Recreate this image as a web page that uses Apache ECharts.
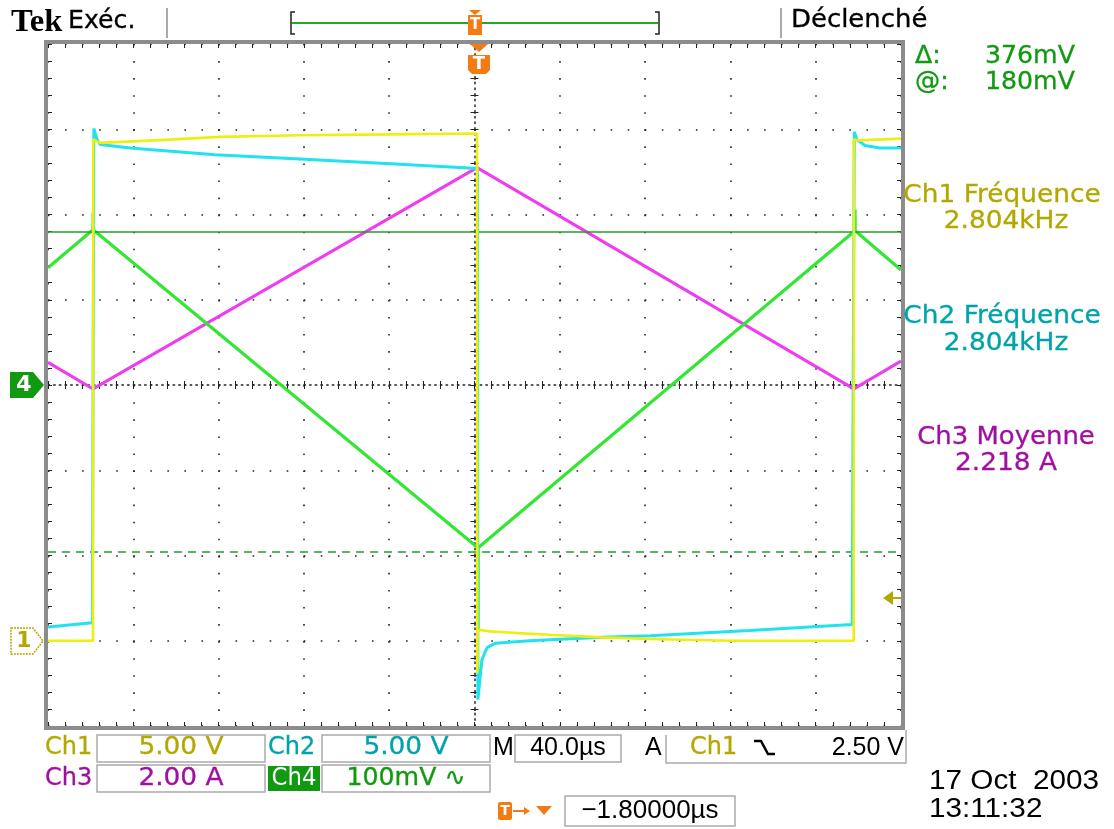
<!DOCTYPE html>
<html><head><meta charset="utf-8">
<script src="https://cdn.jsdelivr.net/npm/echarts@6/dist/echarts.min.js"></script>
<style>html,body{margin:0;padding:0;background:#fff}#c{width:1114px;height:829px}</style>
</head><body><div id="c"></div>
<script>
// ---- Data (time in µs, values in screen divisions) ----
const ch1T = [-200, -178.9, -178.8, -175.5, -150, -119.3, -81.8, -40, 1.2, 1.3, 1.5, 7.3, 20, 35.4, 60, 82.3, 120, 177.8, 177.9, 180, 200];
const ch1V = [-3.00, -3.00, 2.88, 2.84, 2.87, 2.91, 2.93, 2.94, 2.95, -3.38, -2.87, -2.89, -2.91, -2.93, -2.96, -2.98, -3.00, -3.00, 2.88, 2.87, 2.89];
const ch2T = [-200, -179.2, -178.7, -178.5, -177.0, -175.5, -161.5, -121.7, -81.8, -34.9, 1.4, 1.6, 3.5, 5.9, 9.6, 26.0, 60, 82.3, 129, 177.1, 177.9, 178.1, 179.3, 183.1, 190.1, 200];
const ch2V = [-2.84, -2.79, -2.79, 3.01, 2.88, 2.82, 2.78, 2.70, 2.65, 2.59, 2.54, -3.69, -3.22, -3.08, -3.03, -3.00, -2.96, -2.94, -2.88, -2.81, -2.81, 2.97, 2.88, 2.81, 2.78, 2.78];
const ch3T = [-200, -178.9, 1.2, 177.9, 200];
const ch3V = [0.265, -0.045, 2.55, -0.045, 0.28];
const ch4T = [-200, -178.9, -178.85, -178.8, 1.6, 1.65, 1.7, 178.4, 178.45, 178.5, 200];
const ch4V = [1.375, 1.82, 2.02, 1.82, -1.91, -2.87, -1.91, 1.81, 2.06, 1.81, 1.35];
const cursorLevels = [1.8, -1.96];
const timeRange = [-200, 200];
const timeStep = 40;
const divRange = [-4, 4];

// ---- Layout constants ----
const G = {left: 48, top: 44, width: 853, height: 682};
const F = 'DejaVu Sans';
const H = 'Liberation Sans';
const C1 = '#b3a800', C2 = '#00a3aa', C3 = '#a010a0', C4 = '#119911', OR = '#f47a12';
const DOT = '#222';
const zip = (t, v) => t.map((x, i) => [x, v[i]]);

const dotX = [1.6, G.width / 50 - 1.6];
const dotY = [1.6, G.height / 40 - 1.6];
const dotXc = [1.5, G.width / 150 - 1.5];
const dotYc = [1.5, G.height / 120 - 1.5];

function xAx(pos, opts) {
  return Object.assign({
    type: 'value', min: timeRange[0], max: timeRange[1], interval: timeStep, position: pos,
    axisLabel: {show: false},
    axisLine: {show: false, onZero: false},
    axisTick: {show: true, inside: true, length: 4, lineStyle: {color: DOT, width: 1}},
    minorTick: {show: true, splitNumber: 5, length: 4, lineStyle: {color: DOT, width: 1}},
    splitLine: {show: false}
  }, opts);
}
function yAx(pos, opts) {
  return Object.assign({
    type: 'value', min: divRange[0], max: divRange[1], interval: 1, position: pos,
    axisLabel: {show: false},
    axisLine: {show: false, onZero: false},
    axisTick: {show: true, inside: true, length: 4, lineStyle: {color: DOT, width: 1}},
    minorTick: {show: true, splitNumber: 5, length: 4, lineStyle: {color: DOT, width: 1}},
    splitLine: {show: false}
  }, opts);
}

function txt(x, y, text, color, size, o) {
  o = o || {};
  return {
    type: 'text', x: x, y: y, scaleX: o.sx || 1.08, z: 100,
    style: {
      text: text, fill: color,
      font: (o.bold ? 'bold ' : '') + size + 'px "' + (o.family || F) + '"',
      textAlign: o.align || 'left', align: o.align || 'left',
      textVerticalAlign: 'middle', verticalAlign: 'middle',
      stroke: o.stroke ? color : null, lineWidth: o.stroke || 0
    }
  };
}
function box(x, y, w, h, stroke, fill) {
  return {type: 'rect', z: 90, shape: {x: x, y: y, width: w, height: h},
    style: {fill: fill || 'none', stroke: stroke || '#aaa', lineWidth: 1.5}};
}
function poly(points, fill, stroke, lw, dash) {
  return {type: 'polygon', z: 95, shape: {points: points},
    style: {fill: fill || 'none', stroke: stroke || null, lineWidth: lw || 1, lineDash: dash || null}};
}
function pline(points, stroke, lw) {
  return {type: 'polyline', z: 95, shape: {points: points}, style: {stroke: stroke, lineWidth: lw || 1.5, fill: 'none'}};
}

const S = 24;
const graphics = [
  // grid border
  {type: 'rect', z: 80, shape: {x: 46, y: 42, width: G.width + 4, height: G.height + 4},
    style: {fill: 'none', stroke: '#8c8c8c', lineWidth: 4}},
  // top bar
  txt(11, 23, 'Tek', '#000', 32, {bold: true, family: 'Liberation Serif', sx: 1.02}),
  txt(68, 22, 'Exéc.', '#000', S, {sx: 1.05, stroke: 0.3}),
  pline([[167, 8], [167, 38]], '#aaa', 2),
  pline([[781, 8], [781, 38]], '#aaa', 2),
  txt(791, 21, 'Déclenché', '#000', S, {sx: 1.08, stroke: 0.3}),
  pline([[295, 12], [291, 12], [291, 34], [295, 34]], '#222', 1.5),
  pline([[655, 12], [659, 12], [659, 34], [655, 34]], '#222', 1.5),
  pline([[292, 23], [658, 23]], '#22aa22', 2),
  poly([[469, 10], [481, 10], [475, 15]], OR),
  poly([[468, 15], [482, 15], [482, 35], [468, 35]], OR),
  txt(475, 25, 'T', '#fff', 15, {bold: true, align: 'center', sx: 1}),
  // trigger position marker in graticule
  poly([[470, 44], [488, 44], [479, 52]], OR),
  poly([[468, 55], [490, 55], [490, 70], [486, 74], [472, 74], [468, 70]], OR),
  txt(479, 64, 'T', '#fff', 18, {bold: true, align: 'center', sx: 1}),
  // channel markers
  poly([[10, 372], [33, 372], [44, 385], [33, 398], [10, 398]], C4),
  txt(24, 385, '4', '#fff', 22, {bold: true, align: 'center', sx: 1}),
  poly([[11, 628], [33, 628], [43, 641], [33, 654], [11, 654]], '#fff', C1, 1.5, [2, 1]),
  txt(24, 641, '1', C1, 22, {bold: true, align: 'center', sx: 1}),
  // trigger level arrow
  poly([[883, 598], [893, 591], [893, 605]], C1),
  pline([[893, 598], [901, 598]], C1, 2),
  // right readouts
  txt(915, 57, 'Δ:', C4, S, {sx: 1.05, stroke: 0.3}),
  txt(985, 57, '376mV', C4, S, {sx: 1.05, stroke: 0.3}),
  txt(915, 83, '@:', C4, S, {sx: 1.05, stroke: 0.3}),
  txt(985, 83, '180mV', C4, S, {sx: 1.05, stroke: 0.3}),
  txt(1002, 196, 'Ch1 Fréquence', C1, S, {align: 'center', sx: 1.1, stroke: 0.3}),
  txt(1006, 222, '2.804kHz', C1, S, {align: 'center', sx: 1.1, stroke: 0.3}),
  txt(1002, 317, 'Ch2 Fréquence', C2, S, {align: 'center', sx: 1.1, stroke: 0.3}),
  txt(1006, 344, '2.804kHz', C2, S, {align: 'center', sx: 1.1, stroke: 0.3}),
  txt(1006, 438, 'Ch3 Moyenne', C3, S, {align: 'center', sx: 1.08, stroke: 0.3}),
  txt(1006, 464, '2.218 A', C3, S, {align: 'center', sx: 1.1, stroke: 0.3}),
  // bottom row 1
  txt(45, 748, 'Ch1', C1, S, {sx: 1.0, stroke: 0.3}),
  box(97, 735, 168, 27),
  txt(181, 748, '5.00 V', C1, S, {align: 'center', sx: 1.1, stroke: 0.3}),
  txt(268, 748, 'Ch2', C2, S, {sx: 1.0, stroke: 0.3}),
  box(322, 735, 168, 27),
  txt(406, 748, '5.00 V', C2, S, {align: 'center', sx: 1.1, stroke: 0.3}),
  txt(493, 748, 'M', '#000', 25, {family: H, sx: 1.0}),
  box(515, 735, 106, 27),
  txt(568, 748, '40.0µs', '#000', 25, {family: H, align: 'center', sx: 1.0}),
  txt(645, 748, 'A', '#000', 25, {family: H, sx: 1.0}),
  pline([[666, 735], [666, 763], [906, 763], [906, 730]], '#aaa', 1.5),
  txt(690, 748, 'Ch1', C1, S, {sx: 1.0, stroke: 0.3}),
  pline([[754, 741], [761, 741], [768, 754], [775, 754]], '#000', 2.5),
  txt(904, 748, '2.50 V', '#000', 25, {family: H, align: 'right', sx: 1.0}),
  // bottom row 2
  txt(45, 779, 'Ch3', C3, S, {sx: 1.0, stroke: 0.3}),
  box(97, 765, 168, 27),
  txt(181, 779, '2.00 A', C3, S, {align: 'center', sx: 1.1, stroke: 0.3}),
  {type: 'rect', z: 90, shape: {x: 268, y: 766, width: 52, height: 25}, style: {fill: C4}},
  txt(294, 779, 'Ch4', '#fff', S, {align: 'center', sx: 0.95}),
  box(322, 765, 168, 27),
  txt(406, 779, '100mV ∿', C4, S, {align: 'center', sx: 1.05, stroke: 0.3}),
  // bottom row 3
  {type: 'rect', z: 90, shape: {x: 498, y: 802, width: 14, height: 18, r: 2}, style: {fill: OR}},
  txt(505, 811, 'T', '#fff', 14, {bold: true, align: 'center', sx: 1}),
  pline([[513, 811], [528, 811]], OR, 2),
  poly([[524, 807], [530, 811], [524, 815]], OR),
  poly([[536, 806], [552, 806], [544, 815]], OR),
  box(565, 796, 170, 30),
  txt(650, 811, '−1.80000µs', '#000', 26, {family: H, align: 'center', sx: 1.0}),
  txt(929, 782, '17 Oct  2003', '#000', 27, {family: H, sx: 1.1}),
  txt(929, 810, '13:11:32', '#000', 27, {family: H, sx: 1.1})
];

const chart = echarts.init(document.getElementById('c'), null, {renderer: 'canvas'});
chart.setOption({
  animation: false,
  backgroundColor: '#fff',
  grid: Object.assign({show: false}, G),
  xAxis: [
    xAx('bottom', {splitLine: {show: true, lineStyle: {color: DOT, width: 1.6, type: dotX}}}),
    xAx('top', {}),
    xAx('bottom', {axisLine: {show: true, onZero: true, onZeroAxisIndex: 0, lineStyle: {color: DOT, width: 1.5, type: dotXc}}}),
    xAx('bottom', {axisLine: {show: true, onZero: true, onZeroAxisIndex: 0, lineStyle: {color: 'rgba(0,0,0,0)'}},
      axisTick: {show: true, inside: false, length: 4, lineStyle: {color: DOT, width: 1}}})
  ],
  yAxis: [
    yAx('left', {splitLine: {show: true, lineStyle: {color: DOT, width: 1.6, type: dotY}}}),
    yAx('right', {}),
    yAx('left', {axisLine: {show: true, onZero: true, onZeroAxisIndex: 0, lineStyle: {color: DOT, width: 1.5, type: dotYc}}}),
    yAx('left', {axisLine: {show: true, onZero: true, onZeroAxisIndex: 0, lineStyle: {color: 'rgba(0,0,0,0)'}},
      axisTick: {show: true, inside: false, length: 4, lineStyle: {color: DOT, width: 1}}})
  ],
  series: [
    {type: 'line', name: 'Ch4 cursors', data: [], xAxisIndex: 0, yAxisIndex: 0, z: 2,
      markLine: {silent: true, symbol: 'none', label: {show: false}, animation: false,
        data: [
          {yAxis: cursorLevels[0], lineStyle: {color: '#22a022', width: 1.5, type: 'solid'}},
          {yAxis: cursorLevels[1], lineStyle: {color: '#22a022', width: 1.5, type: [8, 6]}}
        ]}},
    {type: 'line', name: 'Ch3', data: zip(ch3T, ch3V), symbol: 'none', z: 3,
      lineStyle: {color: '#f03cf0', width: 3}},
    {type: 'line', name: 'Ch4', data: zip(ch4T, ch4V), symbol: 'none', z: 4,
      lineStyle: {color: '#33e633', width: 3.2}},
    {type: 'line', name: 'Ch2', data: zip(ch2T, ch2V), symbol: 'none', z: 5,
      lineStyle: {color: '#22e2f0', width: 3}},
    {type: 'line', name: 'Ch1', data: zip(ch1T, ch1V), symbol: 'none', z: 6,
      lineStyle: {color: '#eeee10', width: 2.6}}
  ],
  graphic: {elements: graphics}
});
</script>
</body></html>
